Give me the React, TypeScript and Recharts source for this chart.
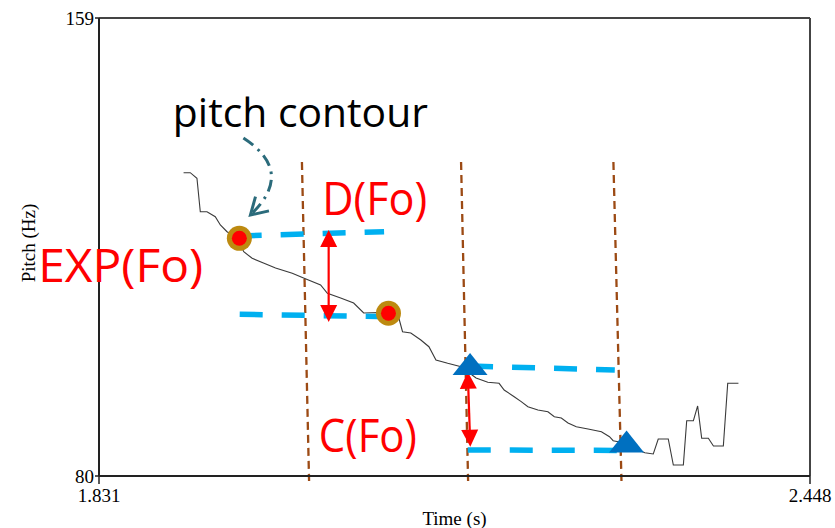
import {
  ComposedChart,
  Line,
  Scatter,
  XAxis,
  YAxis,
  ReferenceLine,
  ReferenceDot,
} from "recharts";

// axis ranges as printed on the figure
const timeDomain = [1.831, 2.448];
const pitchDomain = [80, 159];
const timeTicks = [1.831, 2.448];
const pitchTicks = [80, 159];

// pitch contour (s, Hz)
const contourTime = [
  1.9044, 1.9102, 1.916, 1.9189, 1.9247, 1.9319, 1.9363, 1.9421, 1.9511, 1.9566,
  1.9639, 1.9737, 1.9842, 1.9987, 2.0085, 2.0233, 2.0292, 2.0407, 2.052, 2.0607,
  2.0745, 2.0885, 2.0912, 2.0944, 2.1016, 2.1103, 2.1173, 2.1234, 2.1336, 2.1452,
  2.1582, 2.1684, 2.1782, 2.1826, 2.1913, 2.1974, 2.2032, 2.2119, 2.2206, 2.2261,
  2.2322, 2.238, 2.2452, 2.2554, 2.267, 2.274, 2.2772, 2.2815, 2.3047, 2.312,
  2.3163, 2.325, 2.3294, 2.3381, 2.341, 2.3468, 2.3505, 2.354, 2.3598, 2.3642,
  2.3728, 2.3766, 2.3859,
];
const contourPitch = [
  132.32, 132.32, 131.35, 125.59, 125.59, 124.73, 123.3, 122.14, 121.05, 118.69,
  117.55, 116.74, 115.88, 114.97, 114.15, 112.95, 111.52, 110.7, 109.84, 108.12,
  108.2, 108.1, 107.25, 104.89, 104.67, 103.46, 102.3, 100.01, 99.44, 98.85,
  96.91, 96.16, 95.99, 94.83, 93.68, 92.82, 91.95, 91.39, 91.09, 90.23,
  90.0, 89.14, 88.5, 88.11, 87.64, 86.78, 86.09, 85.92, 84.02, 83.8,
  86.38, 86.38, 81.9, 81.9, 89.54, 89.54, 92.08, 86.5, 86.5, 85.18,
  85.18, 95.99, 95.99,
];

// EXP(Fo) points (circles) and C(Fo) points (triangles)
const expTime = [1.9528, 2.0822];
const expPitch = [121.0, 108.07];
const cTime = [2.153, 2.2888];
const cPitch = [99.32, 85.95];

// level lines (start / end)
const dTopTime = [1.9522, 2.0784];
const dTopPitch = [121.4, 122.14];
const dBottomTime = [1.9531, 2.0828];
const dBottomPitch = [107.89, 107.48];
const cTopTime = [2.153, 2.2786];
const cTopPitch = [98.97, 98.28];
const cBottomTime = [2.151, 2.2931];
const cBottomPitch = [84.49, 84.4];

// segment boundaries (top / bottom of each dashed line)
const boundaryTopTime = [2.0071, 2.1452, 2.2774];
const boundaryBottomTime = [2.0133, 2.1513, 2.2844];
const boundaryTopPitch = 134.17;
const boundaryBottomPitch = 79.14;

// double arrows: D(Fo) and C(Fo)
const arrowTime = [
  [2.0303, 2.0303],
  [2.151, 2.1532],
];
const arrowPitch = [
  [122.43, 106.56],
  [97.99, 85.05],
];

// pointer from "pitch contour" label to the trace
const pointerTime = [1.9563, 1.9624];
const pointerPitch = [138.3, 125.02];

const annotations = [
  { text: "pitch contour", t: 1.8951, hz: 140.2, color: "#000", size: 41, width: 255 },
  { text: "D(Fo)", t: 2.0248, hz: 125.02, color: "#ff0000", size: 45, width: 105 },
  { text: "EXP(Fo)", t: 1.7782, hz: 113.52, color: "#ff0000", size: 45, width: 165 },
  { text: "C(Fo)", t: 2.0218, hz: 84.19, color: "#ff0000", size: 45, width: 98 },
];

const zip = (ts: number[], hs: number[]) => ts.map((t, i) => ({ t, hz: hs[i] }));

const contour = zip(contourTime, contourPitch);
const expPoints = zip(expTime, expPitch);
const cPoints = zip(cTime, cPitch);
const levelLines = [
  zip(dTopTime, dTopPitch),
  zip(dBottomTime, dBottomPitch),
  zip(cTopTime, cTopPitch),
  zip(cBottomTime, cBottomPitch),
];

const SERIF = "'Liberation Serif', 'Times New Roman', serif";
const SANS = "'Open Sans', 'Noto Sans', sans-serif";

function CircleMarker(props: any) {
  const { cx, cy } = props;
  return (
    <g>
      <circle cx={cx} cy={cy} r={12.5} fill="#bd8a10" />
      <circle cx={cx} cy={cy} r={7.5} fill="#ff0000" />
    </g>
  );
}

function TriangleMarker(props: any) {
  const { cx, cy } = props;
  return (
    <polygon
      points={`${cx},${cy - 11} ${cx + 17.5},${cy + 11} ${cx - 17.5},${cy + 11}`}
      fill="#0070c0"
    />
  );
}

function DoubleArrow(props: any) {
  const { x1, y1, x2, y2 } = props;
  const len = Math.hypot(x2 - x1, y2 - y1) || 1;
  const ux = (x2 - x1) / len;
  const uy = (y2 - y1) / len;
  const hl = 17;
  const hw = 8.5;
  const head = (tx: number, ty: number, dir: number) => {
    const bx = tx - dir * ux * hl;
    const by = ty - dir * uy * hl;
    return `${tx},${ty} ${bx - uy * hw},${by + ux * hw} ${bx + uy * hw},${by - ux * hw}`;
  };
  return (
    <g>
      <line
        x1={x1 + ux * hl * 0.7}
        y1={y1 + uy * hl * 0.7}
        x2={x2 - ux * hl * 0.7}
        y2={y2 - uy * hl * 0.7}
        stroke="#ff0000"
        strokeWidth={2.2}
      />
      <polygon points={head(x1, y1, -1)} fill="#ff0000" />
      <polygon points={head(x2, y2, 1)} fill="#ff0000" />
    </g>
  );
}

function CurvedPointer(props: any) {
  const { x1, y1, x2, y2 } = props;
  const len = Math.hypot(x2 - x1, y2 - y1) || 1;
  // bend to the right of the chord
  const nx = (y2 - y1) / len;
  const ny = -(x2 - x1) / len;
  const cx = (x1 + x2) / 2 + nx * 49;
  const cy = (y1 + y2) / 2 + ny * 49;
  const back = Math.atan2(cy - y2, cx - x2);
  const wing = 19;
  const spread = (31 * Math.PI) / 180;
  const w1x = x2 + wing * Math.cos(back - spread);
  const w1y = y2 + wing * Math.sin(back - spread);
  const w2x = x2 + wing * Math.cos(back + spread);
  const w2y = y2 + wing * Math.sin(back + spread);
  return (
    <g fill="none" stroke="#2b6b7b" strokeWidth={3}>
      <path d={`M${x1},${y1} Q${cx},${cy} ${x2},${y2}`} strokeDasharray="12 6 2.5 6" />
      <path d={`M${w1x},${w1y} L${x2},${y2} L${w2x},${w2y}`} strokeLinejoin="miter" />
    </g>
  );
}

function AnnotationText({ cx, cy, text, color, size, width }: any) {
  return (
    <text
      x={cx}
      y={cy}
      fill={color}
      fontFamily={SANS}
      fontSize={size}
      textLength={width}
      lengthAdjust="spacingAndGlyphs"
    >
      {text}
    </text>
  );
}

function PitchLabel({ viewBox }: any) {
  const x = viewBox.x + 28;
  const y = viewBox.y + viewBox.height / 2 - 4;
  return (
    <text
      x={x}
      y={y}
      transform={`rotate(-90 ${x} ${y})`}
      textAnchor="middle"
      dominantBaseline="central"
      fontFamily={SERIF}
      fontSize={19}
      fill="#000"
    >
      Pitch (Hz)
    </text>
  );
}

export default function App() {
  return (
    <div style={{ position: "absolute", left: 0, top: 0, width: 835, height: 528, background: "#fff" }}>
      <ComposedChart width={835} height={528} margin={{ top: 18, right: 25, bottom: 0, left: 0 }}>
        <XAxis
          dataKey="t"
          type="number"
          domain={timeDomain}
          ticks={timeTicks}
          allowDataOverflow
          height={52}
          tickFormatter={(v: number) => v.toFixed(3)}
          tick={{ fontFamily: SERIF, fontSize: 19, fill: "#000" }}
          tickSize={8}
          tickMargin={5}
          axisLine={{ stroke: "#222", strokeWidth: 2 }}
          tickLine={{ stroke: "#222", strokeWidth: 1.5 }}
          label={{ value: "Time (s)", position: "insideBottom", offset: 3, fontFamily: SERIF, fontSize: 19, fill: "#000" }}
        />
        <YAxis
          type="number"
          domain={pitchDomain}
          ticks={pitchTicks}
          allowDataOverflow
          width={99}
          tick={{ fontFamily: SERIF, fontSize: 19, fill: "#000" }}
          tickSize={4}
          tickMargin={1}
          axisLine={{ stroke: "#222", strokeWidth: 2 }}
          tickLine={{ stroke: "#222", strokeWidth: 1.5 }}
          label={<PitchLabel />}
        />
        <ReferenceLine y={159} stroke="#444" strokeWidth={2} />
        <ReferenceLine x={2.448} stroke="#444" strokeWidth={2} />

        {boundaryTopTime.map((t, i) => (
          <ReferenceLine
            key={`b${i}`}
            segment={[
              { x: t, y: boundaryTopPitch },
              { x: boundaryBottomTime[i], y: boundaryBottomPitch },
            ]}
            ifOverflow="visible"
            stroke="#9c4a14"
            strokeWidth={2.3}
            strokeDasharray="8 5"
          />
        ))}

        <Line
          data={contour}
          dataKey="hz"
          type="linear"
          stroke="#3a3a3a"
          strokeWidth={1.1}
          dot={false}
          isAnimationActive={false}
        />

        <Scatter data={expPoints} dataKey="hz" shape={<CircleMarker />} isAnimationActive={false} />

        {levelLines.map((pts, i) => (
          <Line
            key={`lv${i}`}
            data={pts}
            dataKey="hz"
            type="linear"
            stroke="#00b0f0"
            strokeWidth={5.5}
            strokeDasharray="23 19"
            dot={false}
            isAnimationActive={false}
          />
        ))}

        {arrowTime.map((ts, i) => (
          <ReferenceLine
            key={`a${i}`}
            segment={[
              { x: ts[0], y: arrowPitch[i][0] },
              { x: ts[1], y: arrowPitch[i][1] },
            ]}
            ifOverflow="visible"
            shape={<DoubleArrow />}
          />
        ))}

        <Scatter data={cPoints} dataKey="hz" shape={<TriangleMarker />} isAnimationActive={false} />

        <ReferenceLine
          segment={[
            { x: pointerTime[0], y: pointerPitch[0] },
            { x: pointerTime[1], y: pointerPitch[1] },
          ]}
          ifOverflow="visible"
          shape={<CurvedPointer />}
        />

        {annotations.map((a) => (
          <ReferenceDot
            key={a.text}
            x={a.t}
            y={a.hz}
            r={0}
            ifOverflow="visible"
            shape={(p: any) => <AnnotationText {...a} cx={p.cx} cy={p.cy} />}
          />
        ))}
      </ComposedChart>
    </div>
  );
}
